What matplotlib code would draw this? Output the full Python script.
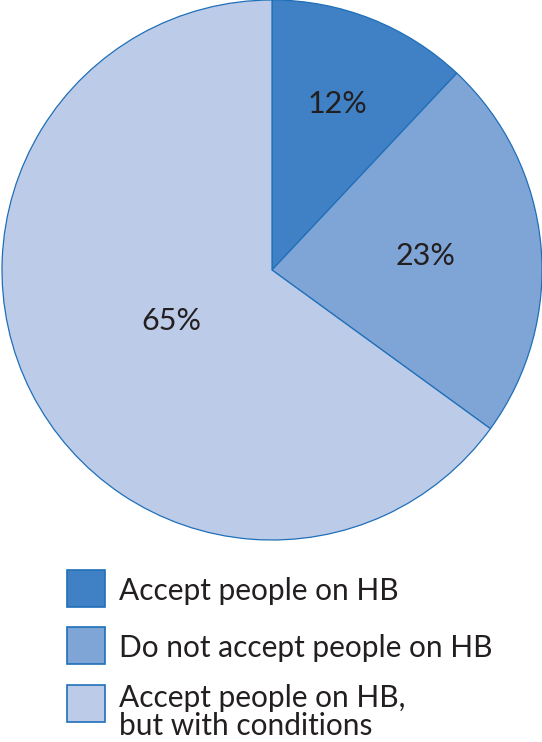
import numpy as np
import matplotlib.pyplot as plt
from matplotlib.patches import Rectangle

# data
labels = ['Accept people on HB', 'Do not accept people on HB',
          'Accept people on HB,\nbut with conditions']
shares = [12, 23, 65]
colors = ['#3f81c4', '#7fa4d6', '#bccbe8']
edge = '#1f6fb9'

W, H = 542, 742
fig = plt.figure(figsize=(W / 100, H / 100), dpi=100)
plt.rcParams['font.family'] = ['Lato', 'DejaVu Sans']

# pie axes placed in pixel units
cx, top, r = 272, 0, 270
ax = fig.add_axes([(cx - r) / W, (H - top - 2 * r) / H, 2 * r / W, 2 * r / H])
wedges, _ = ax.pie(shares, colors=colors, startangle=90, counterclock=False,
                   wedgeprops=dict(edgecolor=edge, linewidth=0.9))
for w in wedges:
    w.set_clip_on(False)
ax.set_xlim(-1, 1)
ax.set_ylim(-1, 1)
ax.set_aspect('equal')
ax.axis('off')

# percentage labels, each at its own distance from the centre
label_dist = [0.66, 0.57, 0.42]
for w, s, d in zip(wedges, shares, label_dist):
    ang = np.deg2rad((w.theta1 + w.theta2) / 2)
    ax.text(d * np.cos(ang), d * np.sin(ang), f'{s}%', ha='center', va='center',
            fontsize=22, color='#231f20')

# legend drawn in pixel coords
lg = fig.add_axes([0, 0, 1, 1], zorder=-1)
lg.set_xlim(0, W)
lg.set_ylim(H, 0)
lg.axis('off')
box_top = [570, 627, 685]
baseline = [600, 657, 707]
for c, lab, bt, bl in zip(colors, labels, box_top, baseline):
    lg.add_patch(Rectangle((67, bt), 38, 37, facecolor=c, edgecolor=edge, linewidth=1.2))
    lg.text(119, bl, lab.split('\n')[0], ha='left', va='baseline', fontsize=21.5, color='#231f20')
    if '\n' in lab:
        lg.text(119, bl + 28, lab.split('\n')[1], ha='left', va='baseline',
                fontsize=21.5, color='#231f20')

fig.savefig('out.png', dpi=100)
